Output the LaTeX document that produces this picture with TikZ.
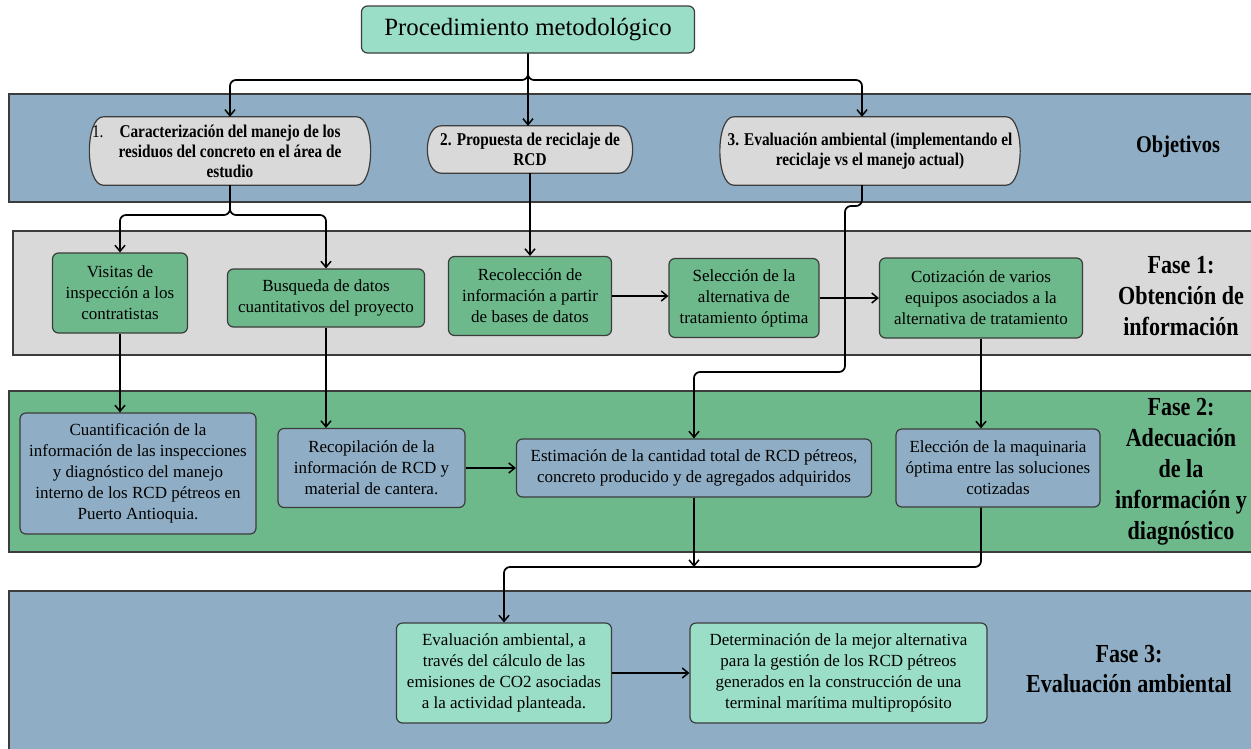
\documentclass[tikz,border=0pt]{standalone}
\usepackage{fontspec}
\setmainfont{Liberation Serif}
\newfontfamily\condb{Liberation Serif}[FakeStretch=0.85]
\usetikzlibrary{arrows.meta,calc}
\pgfdeclarelayer{bands}\pgfdeclarelayer{mid}
\pgfsetlayers{bands,mid,main}

\definecolor{teal1}{HTML}{9ADEC8}
\definecolor{blue1}{HTML}{8FAEC5}
\definecolor{gray1}{HTML}{D9D9D9}
\definecolor{green1}{HTML}{6DB98C}
\definecolor{edge1}{HTML}{3C3C3C}

\tikzset{
 box/.style={draw=edge1, line width=1.2pt, rounded corners=6pt, align=center, inner sep=0pt, font=\fontsize{17}{21}\selectfont},
 greenbox/.style={box, fill=green1},
 bluebox/.style={box, fill=blue1},
 tealbox/.style={box, fill=teal1},
 objbox/.style={align=center, inner sep=0pt, font=\condb\bfseries\fontsize{18}{20}\selectfont},
 band/.style={draw=edge1, line width=1.5pt},
 phase/.style={align=center, inner sep=0pt, font=\condb\bfseries\fontsize{26}{31}\selectfont},
 conn/.style={line width=1.7pt, rounded corners=6pt},
 arr/.style={conn, -{Straight Barb[length=6pt,width=10pt,line width=1.5pt]}}
}

\newcommand\stadiumpath[1]{%
 \filldraw[fill=gray1, draw=edge1, line width=1.2pt]
 ($(#1.north west)+(14pt,0)$) -- ($(#1.north east)+(-14pt,0)$)
 .. controls ($(#1.north east)+(4.6pt,0)$) and ($(#1.south east)+(4.6pt,0)$) .. ($(#1.south east)+(-14pt,0)$)
 -- ($(#1.south west)+(14pt,0)$)
 .. controls ($(#1.south west)+(-4.6pt,0)$) and ($(#1.north west)+(-4.6pt,0)$) .. cycle;}

\begin{document}
\begin{tikzpicture}[x=1pt,y=-1pt]
\useasboundingbox (0,0) rectangle (1251,748);

\begin{pgfonlayer}{bands}
\filldraw[band, fill=blue1] (9,94) rectangle (1270,202);
\filldraw[band, fill=gray1] (13,231) rectangle (1270,355);
\filldraw[band, fill=green1] (9,391) rectangle (1270,552);
\filldraw[band, fill=blue1] (9,591) rectangle (1270,770);
\end{pgfonlayer}

% top
\node[tealbox, minimum width=333pt, minimum height=47pt, font=\fontsize{24.8}{30}\selectfont] (top) at (528,29.5) {Procedimiento metodológico};

% objectives
\node[objbox, minimum width=281pt, minimum height=68pt] (o1) at (230,151)
 {\llap{\mdseries 1.\hspace{16pt}}Caracterización del manejo de los\\residuos del concreto en el área de\\estudio};
\node[objbox, minimum width=205pt, minimum height=47pt] (o2) at (530,149.5)
 {2. Propuesta de reciclaje de\\RCD};
\node[objbox, minimum width=300pt, minimum height=68pt] (o3) at (870,151)
 {3. Evaluación ambiental (implementando el\\reciclaje vs el manejo actual)};
\begin{pgfonlayer}{mid}
\stadiumpath{o1}
\stadiumpath{o2}
\stadiumpath{o3}
\end{pgfonlayer}

% phase 1
\node[greenbox, minimum width=135pt, minimum height=80pt] (vis) at (120,293) {Visitas de\\inspección a los\\contratistas};
\node[greenbox, minimum width=197pt, minimum height=58pt] (bus) at (326,298) {Busqueda de datos\\cuantitativos del proyecto};
\node[greenbox, minimum width=163pt, minimum height=79pt] (rec) at (530,296) {Recolección de\\información a partir\\de bases de datos};
\node[greenbox, minimum width=150pt, minimum height=79pt] (sel) at (744,298) {Selección de la\\alternativa de\\tratamiento óptima};
\node[greenbox, minimum width=203pt, minimum height=80pt] (cot) at (981,298) {Cotización de varios\\equipos asociados a la\\alternativa de tratamiento};

% phase 2
\node[bluebox, minimum width=236pt, minimum height=121pt] (cua) at (138,473.5) {Cuantificación de la\\información de las inspecciones\\y diagnóstico del manejo\\interno de los RCD pétreos en\\Puerto Antioquia.};
\node[bluebox, minimum width=187pt, minimum height=79pt] (rcp) at (371.5,468) {Recopilación de la\\información de RCD y\\material de cantera.};
\node[bluebox, minimum width=355pt, minimum height=58pt] (est) at (694,468) {Estimación de la cantidad total de RCD pétreos,\\concreto producido y de agregados adquiridos};
\node[bluebox, minimum width=204pt, minimum height=78pt] (ele) at (998,468) {Elección de la maquinaria\\óptima entre las soluciones\\cotizadas};

% phase 3
\node[tealbox, minimum width=215pt, minimum height=100pt] (eva) at (504,673) {Evaluación ambiental, a\\través del cálculo de las\\emisiones de CO2 asociadas\\a la actividad planteada.};
\node[tealbox, minimum width=297pt, minimum height=100pt] (det) at (838.5,673) {Determinación de la mejor alternativa\\para la gestión de los RCD pétreos\\generados en la construcción de una\\terminal marítima multipropósito};

% labels
\node[phase, font=\condb\bfseries\fontsize{24}{30}\selectfont] (lobj) at (1178,147) {Objetivos};
\node[phase] (lf1) at (1181,296) {Fase 1:\\Obtención de\\información};
\node[phase] (lf2) at (1181,472) {Fase 2:\\Adecuación\\de la\\información y\\diagnóstico};
\node[phase, font=\condb\bfseries\fontsize{26}{30}\selectfont] (lf3) at (1129,669) {Fase 3:\\Evaluación ambiental};

% connectors
\coordinate (s0) at (528,80);
\coordinate (r3) at (862,80);
\draw[arr] (top.south) -- (s0) -| (o1.north);
\draw[arr] (top.south) -- (s0) -- (r3) -- (r3 |- o3.north);
\draw[arr] (top.south) -- (top.south |- o2.north);

\coordinate (s1) at (230,215);
\draw[arr] (o1.south) -- (s1) -| (vis.north);
\draw[arr] (o1.south) -- (s1) -| (bus.north);
\draw[arr] (o2.south) -- (o2.south |- rec.north);

\coordinate (k1) at (862,206);
\coordinate (k2) at (845,206);
\coordinate (k3) at (845,372);
\coordinate (k4) at (694,372);
\draw[arr] (o3.south -| k1) -- (k1) -- (k2) -- (k3) -- (k4) -- (est.north);

\draw[arr] (rec.east) -- (rec.east -| sel.west);
\draw[arr] (sel.east) -- (sel.east -| cot.west);
\draw[arr] (vis.south) -- (vis.south |- cua.north);
\draw[arr] (bus.south) -- (bus.south |- rcp.north);
\draw[arr] (cot.south) -- (cot.south |- ele.north);
\draw[arr] (rcp.east) -- (rcp.east -| est.west);

\coordinate (m) at (694,567);
\draw[arr] (est.south) -- (m);
\draw[arr] (ele.south -| cot.south) -- (cot.south |- m) -- (m -| eva.north) -- (eva.north);
\draw[arr] (eva.east) -- (eva.east -| det.west);
\end{tikzpicture}
\end{document}
